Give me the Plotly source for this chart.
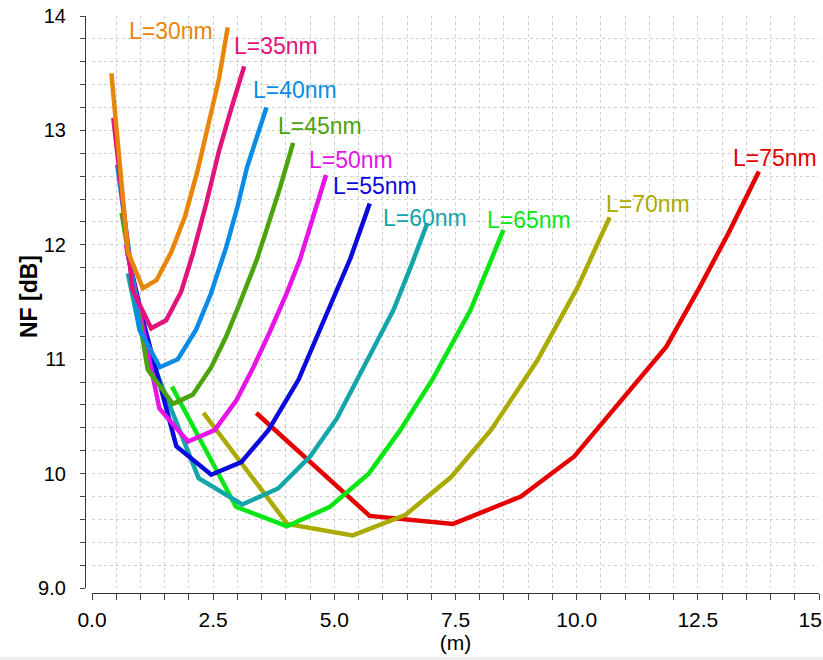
import plotly.graph_objects as go

# ---------------- data ----------------
series_names = ["L=30nm", "L=35nm", "L=40nm", "L=45nm", "L=50nm",
                "L=55nm", "L=60nm", "L=65nm", "L=70nm", "L=75nm"]

x_L30 = [0.40, 0.57, 0.74, 1.05, 1.33, 1.64, 1.92, 2.18, 2.43, 2.62, 2.80]
y_L30 = [13.50, 12.70, 11.94, 11.62, 11.69, 11.94, 12.25, 12.65, 13.10, 13.45, 13.90]

x_L35 = [0.44, 0.64, 0.84, 1.22, 1.53, 1.84, 2.08, 2.35, 2.62, 2.88, 3.14]
y_L35 = [13.11, 12.35, 11.60, 11.27, 11.34, 11.59, 11.92, 12.35, 12.82, 13.20, 13.56]

x_L40 = [0.52, 0.75, 0.98, 1.40, 1.77, 2.15, 2.45, 2.77, 3.00, 3.20, 3.40, 3.60]
y_L40 = [12.70, 11.95, 11.26, 10.93, 11.00, 11.26, 11.57, 11.98, 12.33, 12.68, 12.95, 13.20]

x_L45 = [0.61, 0.88, 1.15, 1.67, 2.08, 2.46, 2.77, 3.05, 3.40, 3.60, 3.88, 4.15]
y_L45 = [12.28, 11.58, 10.91, 10.61, 10.69, 10.93, 11.20, 11.49, 11.87, 12.13, 12.50, 12.89]

x_L50 = [0.70, 1.05, 1.39, 1.98, 2.53, 2.98, 3.33, 3.67, 4.02, 4.29, 4.55, 4.83]
y_L50 = [12.00, 11.25, 10.57, 10.28, 10.38, 10.64, 10.93, 11.24, 11.58, 11.87, 12.22, 12.61]

x_L55 = [0.72, 1.05, 1.74, 2.46, 3.08, 3.64, 4.26, 4.80, 5.33, 5.73]
y_L55 = [11.95, 11.34, 10.24, 9.99, 10.10, 10.38, 10.82, 11.35, 11.88, 12.36]

x_L60 = [0.74, 0.98, 2.20, 3.10, 3.84, 4.50, 5.05, 5.47, 5.85, 6.22, 6.57, 6.92]
y_L60 = [11.75, 11.26, 9.96, 9.73, 9.87, 10.15, 10.48, 10.82, 11.12, 11.43, 11.80, 12.19]

x_L65 = [1.65, 2.97, 4.02, 4.91, 5.71, 6.36, 7.02, 7.81, 8.49]
y_L65 = [10.76, 9.71, 9.54, 9.71, 10.00, 10.38, 10.82, 11.43, 12.13]

x_L70 = [2.30, 4.03, 5.38, 6.47, 7.41, 8.23, 9.19, 10.02, 10.68]
y_L70 = [10.53, 9.56, 9.46, 9.64, 9.97, 10.38, 10.99, 11.63, 12.24]

x_L75 = [3.39, 5.73, 7.45, 8.85, 9.95, 10.85, 11.85, 12.54, 13.13, 13.76]
y_L75 = [10.53, 9.63, 9.56, 9.80, 10.15, 10.60, 11.11, 11.63, 12.10, 12.64]

x_tick_vals = [0, 2.5, 5, 7.5, 10, 12.5, 15]
x_tick_text = ["0.0", "2.5", "5.0", "7.5", "10.0", "12.5", "15&nbsp;&nbsp;&nbsp;"]
y_tick_vals = [9, 10, 11, 12, 13, 14]
y_tick_text = ["9.0", "10", "11", "12", "13", "14"]

# ---------------- styling ----------------
xs = [x_L30, x_L35, x_L40, x_L45, x_L50, x_L55, x_L60, x_L65, x_L70, x_L75]
ys = [y_L30, y_L35, y_L40, y_L45, y_L50, y_L55, y_L60, y_L65, y_L70, y_L75]
colors = ["#E8860A", "#E0147C", "#0A8CE6", "#4BA30E", "#E614E6",
          "#0A0ADC", "#14A5AA", "#0AE614", "#AAAA00", "#E60000"]
# label anchor positions (data coordinates)
label_pos = [(1.62, 13.87), (3.79, 13.74), (4.19, 13.35), (4.71, 13.04), (5.34, 12.74),
             (5.84, 12.51), (6.88, 12.23), (9.02, 12.22), (11.47, 12.36), (14.10, 12.76)]

SANS = "Liberation Sans, Arial, Helvetica, sans-serif"

fig = go.Figure()
for i in reversed(range(len(series_names))):
    fig.add_trace(go.Scatter(
        x=xs[i], y=ys[i], mode="lines", name=series_names[i],
        line=dict(color=colors[i], width=4.5), showlegend=False,
    ))

for i, name in enumerate(series_names):
    fig.add_annotation(
        x=label_pos[i][0], y=label_pos[i][1], xref="x", yref="y",
        text=name, showarrow=False, xanchor="center", yanchor="middle",
        font=dict(family=SANS, size=23, color=colors[i]),
    )

W, H = 823, 660
ml, mr, mt, mb = 85, 4, 16, 67
pw = W - ml - mr
ph = H - mt - mb

# y-axis title
fig.add_annotation(
    x=(29 - ml) / pw, y=(H - mb - 297) / ph, xref="paper", yref="paper",
    text="<b>NF [dB]</b>", textangle=-90, showarrow=False,
    xanchor="center", yanchor="middle",
    font=dict(family=SANS, size=23, color="black"),
)

grid_col = "#cfcfcf"
fig.update_layout(
    width=W, height=H,
    margin=dict(l=ml, r=mr, t=mt, b=mb, pad=0, autoexpand=False),
    paper_bgcolor="white", plot_bgcolor="white",
    showlegend=False,
    xaxis=dict(
        domain=[7 / pw, 1], range=[0, 15], anchor="free", position=0,
        automargin=False,
        showline=True, linecolor="#333333", linewidth=1.2,
        ticks="outside", ticklen=6, tickcolor="#444444", tickwidth=1,
        tickmode="array", tickvals=x_tick_vals, ticktext=x_tick_text,
        tickfont=dict(family=SANS, size=21, color="black"),
        ticklabelstandoff=2, ticklabeloverflow="allow",
        showgrid=True, gridcolor=grid_col, griddash="dot", gridwidth=1,
        zeroline=False,
        minor=dict(tickmode="linear", tick0=0, dtick=0.5, ticks="outside", ticklen=6,
                   tickcolor="#444444", showgrid=True, gridcolor=grid_col, griddash="dot"),
        title=dict(text="(m)", font=dict(family=SANS, size=21, color="black"), standoff=0),
    ),
    yaxis=dict(
        domain=[5 / ph, 1], range=[9, 14], anchor="free", position=0,
        automargin=False,
        showline=True, linecolor="#333333", linewidth=1.2,
        ticks="outside", ticklen=5, tickcolor="#444444", tickwidth=1,
        tickmode="array", tickvals=y_tick_vals, ticktext=y_tick_text,
        tickfont=dict(family=SANS, size=20, color="black"),
        ticklabelstandoff=10, ticklabeloverflow="allow",
        showgrid=True, gridcolor=grid_col, griddash="dot", gridwidth=1,
        zeroline=False,
        minor=dict(tickmode="linear", tick0=9, dtick=0.2, ticks="outside", ticklen=5,
                   tickcolor="#444444", showgrid=True, gridcolor=grid_col, griddash="dot"),
    ),
)

fig.add_shape(type="rect", xref="paper", yref="paper",
              x0=-ml / pw, x1=(W - ml) / pw, y0=-(H - mt - ph) / ph - 0.01, y1=-(657 - (mt + ph)) / ph,
              fillcolor="#eeeeee", line=dict(width=0), layer="below")

fig.write_html("out.html", config={"displayModeBar": False},
               post_script="document.body.style.margin='0px';")
